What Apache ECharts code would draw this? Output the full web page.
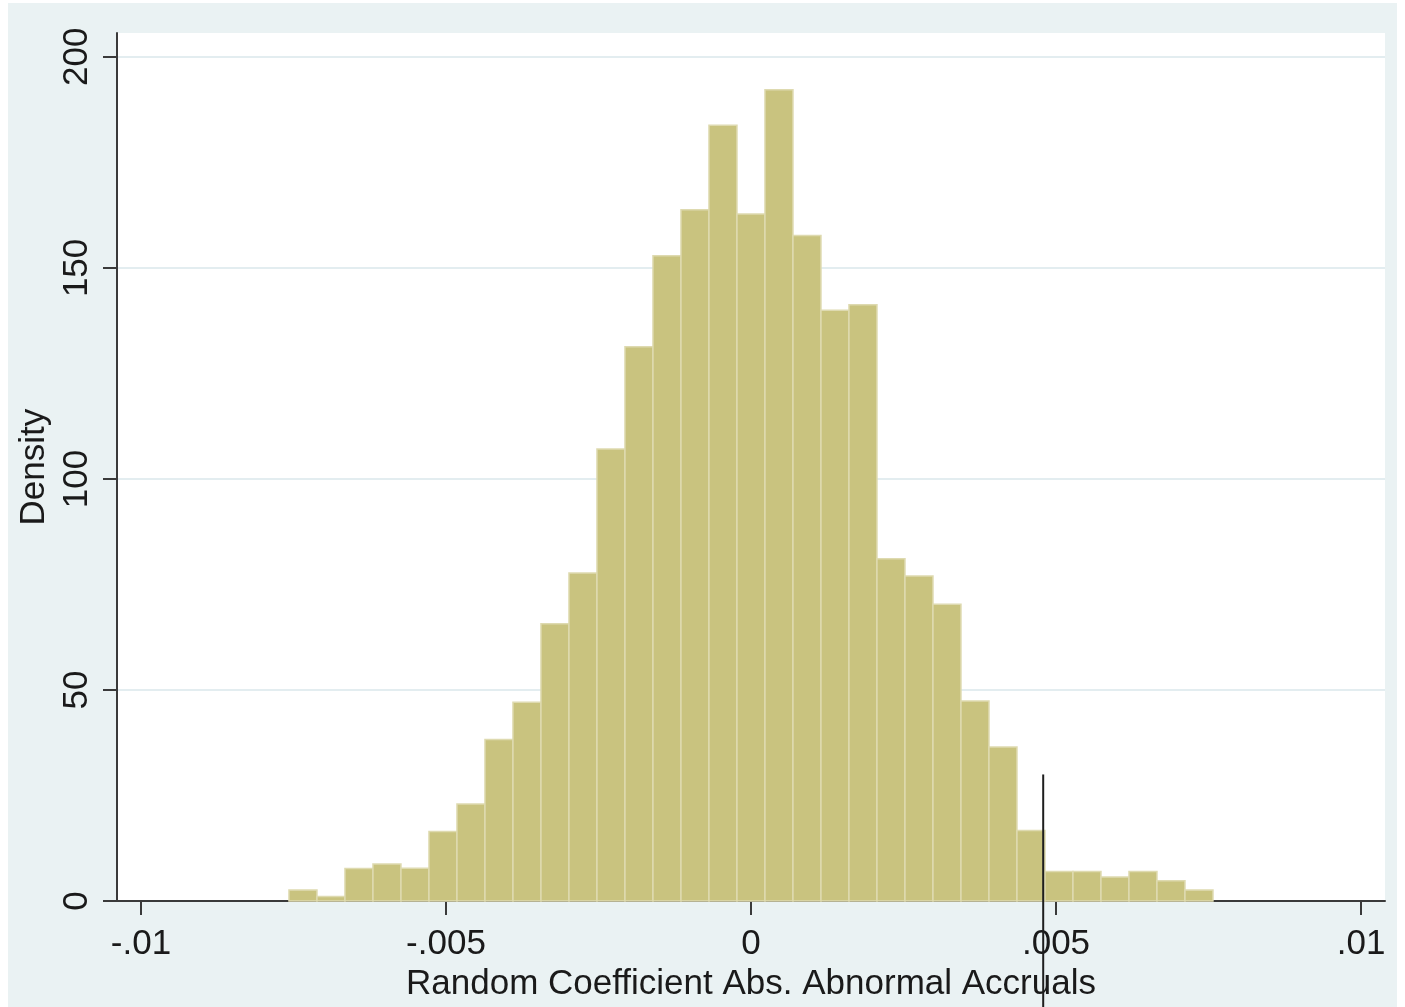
<!DOCTYPE html>
<html>
<head>
<meta charset="utf-8">
<title>Random Coefficient Abs. Abnormal Accruals</title>
<script src="https://cdn.jsdelivr.net/npm/echarts@6/dist/echarts.min.js"></script>
<style>
  html, body { margin: 0; padding: 0; background: #ffffff; overflow: hidden; }
  #chart { width: 1405px; height: 1007px; }
</style>
</head>
<body>
<div id="chart"></div>
<script>
// Histogram bins: first bin edge and common bin width
const binStart = -0.007574;
const binWidth = 0.000459;

// Density of each bin, left to right
const densities = [
  2.6, 1.1, 7.7, 8.8, 7.8, 16.5, 23.0, 38.3, 47.1, 65.7, 77.7,
  107.1, 131.3, 152.9, 163.8, 183.8, 162.8, 192.2, 157.7, 140.0, 141.3,
  81.1, 77.0, 70.3, 47.4, 36.5, 16.7, 7.0, 7.0, 5.7, 7.0, 4.8, 2.6
];

// Axis ticks and their labels
const xTicks = [-0.01, -0.005, 0, 0.005, 0.01];
const xTickLabels = ['-.01', '-.005', '0', '.005', '.01'];
const yTicks = [0, 50, 100, 150, 200];
const yTickLabels = ['0', '50', '100', '150', '200'];
const yGridValues = [50, 100, 150, 200];

// Reference line (observed coefficient) and its vertical span
const refLineX = 0.00479;
const refLineSpan = [30.0, -26];

const xRange = [-0.010393, 0.010393];
const yRange = [0, 205.65];

const FONT = '"Liberation Sans", Arial, sans-serif';
const TEXT = '#1a1a1a';
const AXIS = '#3a3a3a';

const binData = densities.map((d, i) => [
  binStart + i * binWidth,
  binStart + (i + 1) * binWidth,
  d
]);

function labelFor(ticks, labels) {
  return function (v) {
    let best = 0;
    for (let i = 1; i < ticks.length; i++) {
      if (Math.abs(ticks[i] - v) < Math.abs(ticks[best] - v)) best = i;
    }
    return labels[best];
  };
}

const chart = echarts.init(document.getElementById('chart'), null, { renderer: 'canvas' });

chart.setOption({
  backgroundColor: '#ffffff',
  animation: false,
  textStyle: { fontFamily: FONT },
  graphic: {
    elements: [{
      type: 'rect',
      z: -100,
      silent: true,
      shape: { x: 8, y: 3, width: 1389, height: 1100 },
      style: { fill: '#eaf2f3' }
    }]
  },
  grid: {
    left: 117,
    top: 33,
    width: 1268,
    height: 873,
    show: true,
    backgroundColor: '#ffffff',
    borderWidth: 0
  },
  xAxis: {
    type: 'value',
    min: xRange[0],
    max: xRange[1],
    name: 'Random Coefficient Abs. Abnormal Accruals',
    nameLocation: 'middle',
    nameGap: 62,
    nameTextStyle: { fontFamily: FONT, fontSize: 35, color: TEXT },
    axisLine: { show: true, onZero: false, lineStyle: { color: AXIS, width: 2 } },
    axisTick: { show: true, length: 14, customValues: xTicks, lineStyle: { color: AXIS, width: 2 } },
    axisLabel: {
      show: true,
      customValues: xTicks,
      margin: 26,
      fontFamily: FONT,
      fontSize: 35,
      color: TEXT,
      formatter: labelFor(xTicks, xTickLabels)
    },
    splitLine: { show: false }
  },
  yAxis: {
    type: 'value',
    min: yRange[0],
    max: yRange[1],
    name: 'Density',
    nameLocation: 'middle',
    nameRotate: 90,
    nameGap: 64,
    nameTextStyle: { fontFamily: FONT, fontSize: 35, color: TEXT },
    axisLine: { show: true, onZero: false, lineStyle: { color: AXIS, width: 2 } },
    axisTick: { show: true, length: 14, customValues: yTicks, lineStyle: { color: AXIS, width: 2 } },
    axisLabel: {
      show: true,
      customValues: yTicks,
      rotate: 90,
      margin: 22,
      fontFamily: FONT,
      fontSize: 35,
      color: TEXT,
      formatter: labelFor(yTicks, yTickLabels)
    },
    splitLine: { show: false }
  },
  series: [
    {
      // horizontal gridlines, kept under the bars
      type: 'line',
      z: 0,
      data: [],
      silent: true,
      markLine: {
        z: 0,
        silent: true,
        symbol: 'none',
        label: { show: false },
        lineStyle: { color: '#e3edf0', width: 2, type: 'solid' },
        data: yGridValues.map(v => ({ yAxis: v }))
      }
    },
    {
      type: 'custom',
      z: 4,
      data: binData,
      encode: { x: [0, 1], y: 2 },
      renderItem: function (params, api) {
        const topLeft = api.coord([api.value(0), api.value(2)]);
        const bottomRight = api.coord([api.value(1), 0]);
        return {
          type: 'rect',
          shape: {
            x: topLeft[0],
            y: topLeft[1],
            width: bottomRight[0] - topLeft[0],
            height: bottomRight[1] - topLeft[1]
          },
          style: {
            fill: '#c9c37f',
            stroke: '#dedab0',
            lineWidth: 1.5
          }
        };
      }
    },
    {
      type: 'line',
      z: 6,
      clip: false,
      symbol: 'none',
      silent: true,
      data: refLineSpan.map(y => [refLineX, y]),
      lineStyle: { color: '#1e1e1e', width: 2 }
    }
  ]
});
</script>
</body>
</html>
